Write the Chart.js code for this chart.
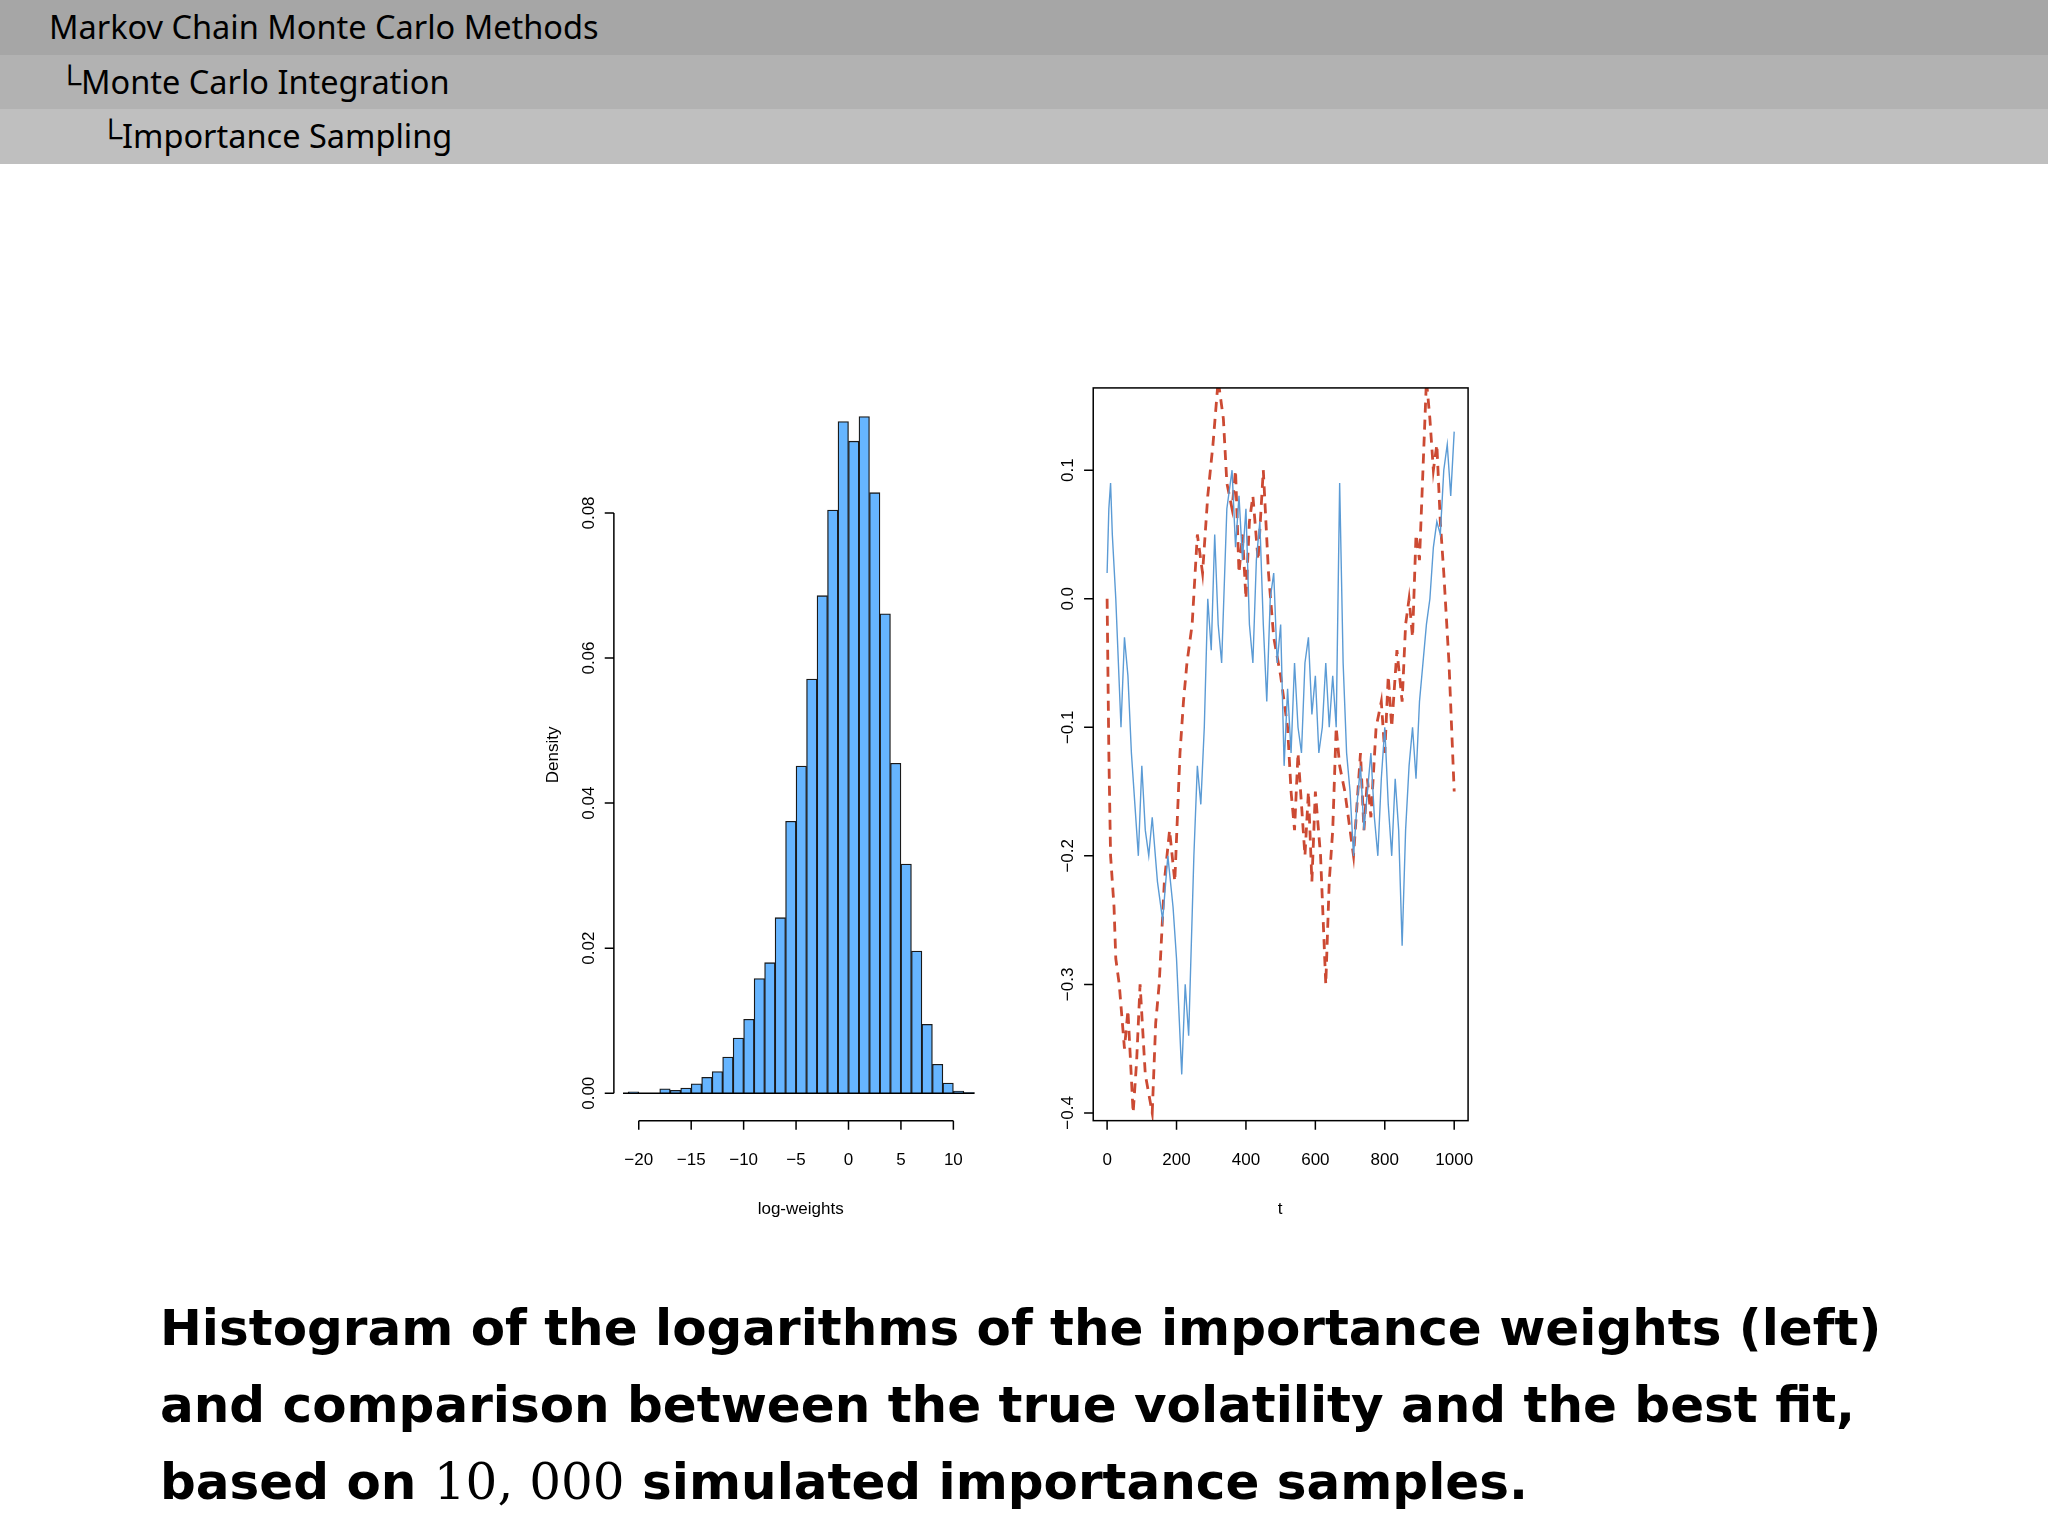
<!DOCTYPE html>
<html>
<head>
<meta charset="utf-8">
<script src="https://cdn.jsdelivr.net/npm/chart.js@4"></script>
<style>
  html, body { margin: 0; padding: 0; background: #fff; }
  body { width: 2048px; height: 1536px; position: relative; overflow: hidden; font-family: "Noto Sans", sans-serif; }
  .band { position: absolute; left: 0; width: 2048px; height: 54.5px; color: #000; font-size: 32.5px; line-height: 54px; }
  canvas { position: absolute; left: 0; top: 0; }
  #caption { position: absolute; left: 160px; top: 1290px; font-family: "DejaVu Sans", sans-serif; font-weight: bold; font-size: 50px; line-height: 77px; color: #000; }
  #caption .m { font-family: "DejaVu Serif", serif; font-weight: normal; }
</style>
</head>
<body>
<div class="band" style="top:0;background:#a6a6a6;padding-left:49px;box-sizing:border-box">Markov Chain Monte Carlo Methods</div>
<div class="band" style="top:54.5px;background:#b2b2b2;padding-left:58px;box-sizing:border-box">└Monte Carlo Integration</div>
<div class="band" style="top:109px;background:#bfbfbf;padding-left:99px;box-sizing:border-box">└Importance Sampling</div>
<canvas id="hist" width="2048" height="1536"></canvas>
<canvas id="vol" width="2048" height="1536"></canvas>
<div id="caption">Histogram of the logarithms of the importance weights (left)<br>and comparison between the true volatility and the best fit,<br>based on <span class="m">10, 000</span> simulated importance samples.</div>
<script>
// histogram of log-weights, bins of width 1 (centres)
const binCentres = [-20.5, -17.5, -16.5, -15.5, -14.5, -13.5, -12.5, -11.5, -10.5, -9.5, -8.5, -7.5, -6.5, -5.5,
  -4.5, -3.5, -2.5, -1.5, -0.5, 0.5, 1.5, 2.5, 3.5, 4.5, 5.5, 6.5, 7.5, 8.5, 9.5, 10.5, 11.5];
const density = [0.0002, 0.0006, 0.0004, 0.0007, 0.0013, 0.0022, 0.003, 0.005, 0.0076, 0.0102, 0.0158, 0.018, 0.0242, 0.0375,
  0.0451, 0.0571, 0.0686, 0.0804, 0.0926, 0.0899, 0.0933, 0.0828, 0.0661, 0.0455, 0.0316, 0.0196, 0.0095, 0.004, 0.0014, 0.0003, 0.0001];
const histXTicks = [-20, -15, -10, -5, 0, 5, 10];
const histYTicks = [0, 0.02, 0.04, 0.06, 0.08];

// true volatility (solid) and best fit (dashed)
const tTrue = [0, 5, 10, 15, 25, 40, 50, 60, 70, 80, 90, 100, 110, 120, 130, 145, 160, 175, 190, 200, 215, 225, 235, 250, 260, 270, 280, 290, 300, 310, 320, 330, 345, 360, 370, 380, 390, 400, 410, 420, 430, 440, 450, 460, 470, 480, 490, 500, 510, 520, 530, 540, 550, 560, 570, 580, 590, 600, 610, 620, 630, 640, 650, 660, 670, 680, 690, 700, 710, 720, 730, 740, 750, 760, 770, 780, 790, 800, 810, 820, 830, 840, 850, 860, 870, 880, 890, 900, 910, 920, 930, 940, 950, 960, 970, 980, 990, 1000];
const volTrue = [0.02, 0.07, 0.09, 0.05, 0.0, -0.1, -0.03, -0.06, -0.12, -0.16, -0.2, -0.13, -0.18, -0.2, -0.17, -0.22, -0.25, -0.2, -0.24, -0.28, -0.37, -0.3, -0.34, -0.2, -0.13, -0.16, -0.1, 0.0, -0.04, 0.05, -0.02, -0.05, 0.07, 0.1, 0.04, 0.08, 0.03, 0.07, -0.02, -0.05, 0.03, 0.06, -0.02, -0.08, 0.0, 0.02, -0.05, -0.02, -0.13, -0.07, -0.12, -0.05, -0.1, -0.12, -0.05, -0.03, -0.09, -0.06, -0.12, -0.1, -0.05, -0.1, -0.06, -0.1, 0.09, -0.05, -0.12, -0.15, -0.2, -0.16, -0.13, -0.18, -0.15, -0.12, -0.17, -0.2, -0.14, -0.1, -0.16, -0.2, -0.14, -0.18, -0.27, -0.18, -0.13, -0.1, -0.14, -0.08, -0.05, -0.02, 0.0, 0.04, 0.06, 0.05, 0.1, 0.12, 0.08, 0.13];
const tFit = [0, 5, 10, 20, 25, 35, 50, 60, 75, 85, 95, 110, 130, 140, 150, 165, 180, 195, 210, 220, 230, 245, 260, 275, 290, 305, 320, 335, 345, 360, 370, 380, 390, 400, 410, 420, 435, 450, 465, 480, 500, 520, 530, 540, 550, 560, 570, 580, 590, 600, 615, 630, 640, 650, 660, 670, 685, 700, 710, 720, 730, 740, 750, 760, 775, 790, 800, 810, 820, 835, 850, 860, 870, 880, 890, 900, 910, 920, 930, 940, 950, 960, 970, 985, 1000];
const volFit = [0.0, -0.12, -0.2, -0.24, -0.28, -0.3, -0.35, -0.32, -0.4, -0.36, -0.3, -0.37, -0.4, -0.33, -0.3, -0.22, -0.18, -0.22, -0.12, -0.08, -0.05, -0.02, 0.05, 0.02, 0.08, 0.12, 0.17, 0.14, 0.09, 0.07, 0.1, 0.02, 0.05, 0.0, 0.06, 0.08, 0.03, 0.1, 0.02, -0.03, -0.06, -0.1, -0.15, -0.18, -0.12, -0.16, -0.2, -0.15, -0.22, -0.15, -0.2, -0.3, -0.22, -0.18, -0.1, -0.13, -0.15, -0.18, -0.2, -0.16, -0.12, -0.18, -0.14, -0.17, -0.1, -0.08, -0.12, -0.06, -0.1, -0.04, -0.08, -0.02, 0.0, -0.03, 0.05, 0.03, 0.1, 0.17, 0.14, 0.1, 0.12, 0.06, 0.02, -0.05, -0.15];
const volXTicks = [0, 200, 400, 600, 800, 1000];
const volYTicks = [-0.4, -0.3, -0.2, -0.1, 0.0, 0.1];

const S = 2048 / 1568;
const tickFont = Math.round(13 * S) + 'px "Liberation Sans Narrow", "Liberation Sans", sans-serif';
const labelFont = Math.round(13 * S) + 'px "Liberation Sans Narrow", "Liberation Sans", sans-serif';

function fmt(v, d) {
  return v.toFixed(d).replace('-', '\u2212');
}

function vtext(ctx, txt, x, y) {
  ctx.save();
  ctx.translate(x, y);
  ctx.rotate(-Math.PI / 2);
  ctx.textAlign = 'center';
  ctx.textBaseline = 'middle';
  ctx.fillText(txt, 0, 0);
  ctx.restore();
}

const histAxes = {
  id: 'histAxes',
  afterDraw(chart) {
    const ctx = chart.ctx, x = chart.scales.x, y = chart.scales.y;
    ctx.save();
    ctx.strokeStyle = '#000';
    ctx.fillStyle = '#000';
    ctx.lineWidth = 1.5;
    const ax = 470 * S, ay = 858 * S, tl = 7 * S;
    ctx.beginPath();
    ctx.moveTo(ax, y.getPixelForValue(histYTicks[0]));
    ctx.lineTo(ax, y.getPixelForValue(histYTicks[histYTicks.length - 1]));
    histYTicks.forEach(v => { const p = y.getPixelForValue(v); ctx.moveTo(ax, p); ctx.lineTo(ax - tl, p); });
    ctx.moveTo(x.getPixelForValue(histXTicks[0]), ay);
    ctx.lineTo(x.getPixelForValue(histXTicks[histXTicks.length - 1]), ay);
    histXTicks.forEach(v => { const p = x.getPixelForValue(v); ctx.moveTo(p, ay); ctx.lineTo(p, ay + tl); });
    // baseline under bars
    ctx.moveTo(x.left, y.getPixelForValue(0));
    ctx.lineTo(x.right - 5, y.getPixelForValue(0));
    ctx.stroke();
    ctx.font = tickFont;
    histYTicks.forEach(v => vtext(ctx, v.toFixed(2), 451 * S, y.getPixelForValue(v)));
    ctx.textAlign = 'center';
    ctx.textBaseline = 'middle';
    histXTicks.forEach(v => ctx.fillText(fmt(v, 0), x.getPixelForValue(v), 888 * S));
    ctx.font = labelFont;
    ctx.fillText('log-weights', 613 * S, 926 * S);
    vtext(ctx, 'Density', 424 * S, 578 * S);
    ctx.restore();
  }
};

new Chart(document.getElementById('hist'), {
  type: 'bar',
  data: {
    datasets: [{
      data: binCentres.map((c, i) => ({ x: c, y: density[i] })),
      backgroundColor: '#66b5ff',
      borderColor: '#1a1a1a',
      borderWidth: 1.3,
      barPercentage: 1,
      categoryPercentage: 1,
      borderSkipped: 'bottom'
    }]
  },
  options: {
    responsive: false,
    animation: false,
    devicePixelRatio: 1,
    layout: { padding: { left: 477 * S, right: 2048 - 750 * S, top: 315 * S, bottom: 1536 - 837 * S } },
    plugins: { legend: { display: false }, tooltip: { enabled: false } },
    scales: {
      x: { type: 'linear', min: -21.5, max: 12.5, display: false, offset: false },
      y: { min: 0, max: 0.094, display: false }
    }
  },
  plugins: [histAxes]
});

const volAxes = {
  id: 'volAxes',
  afterDraw(chart) {
    const ctx = chart.ctx, x = chart.scales.x, y = chart.scales.y, a = chart.chartArea;
    ctx.save();
    ctx.strokeStyle = '#000';
    ctx.fillStyle = '#000';
    ctx.lineWidth = 1.5;
    const tl = 7 * S;
    ctx.strokeRect(a.left, a.top, a.right - a.left, a.bottom - a.top);
    ctx.beginPath();
    volYTicks.forEach(v => { const p = y.getPixelForValue(v); ctx.moveTo(a.left, p); ctx.lineTo(a.left - tl, p); });
    volXTicks.forEach(v => { const p = x.getPixelForValue(v); ctx.moveTo(p, a.bottom); ctx.lineTo(p, a.bottom + tl); });
    ctx.stroke();
    ctx.font = tickFont;
    volYTicks.forEach(v => vtext(ctx, fmt(v, 1), 818 * S, y.getPixelForValue(v)));
    ctx.textAlign = 'center';
    ctx.textBaseline = 'middle';
    volXTicks.forEach(v => ctx.fillText(String(v), x.getPixelForValue(v), 888 * S));
    ctx.font = labelFont;
    ctx.fillText('t', 980 * S, 926 * S);
    ctx.restore();
  }
};

new Chart(document.getElementById('vol'), {
  type: 'line',
  data: {
    datasets: [{
      data: tTrue.map((t, i) => ({ x: t, y: volTrue[i] })),
      borderColor: '#5b9bd5',
      borderWidth: 1.4,
      pointRadius: 0,
      tension: 0
    }, {
      data: tFit.map((t, i) => ({ x: t, y: volFit[i] })),
      borderColor: '#cc4a33',
      borderWidth: 2.8,
      borderDash: [10, 7],
      pointRadius: 0,
      tension: 0
    }]
  },
  options: {
    responsive: false,
    animation: false,
    devicePixelRatio: 1,
    layout: { padding: { left: 837 * S, right: 2048 - 1124 * S, top: 297 * S, bottom: 1536 - 858 * S } },
    plugins: { legend: { display: false }, tooltip: { enabled: false } },
    scales: {
      x: { type: 'linear', min: -40, max: 1040, display: false },
      y: { min: -0.406, max: 0.164, display: false }
    }
  },
  plugins: [volAxes]
});
</script>
</body>
</html>
